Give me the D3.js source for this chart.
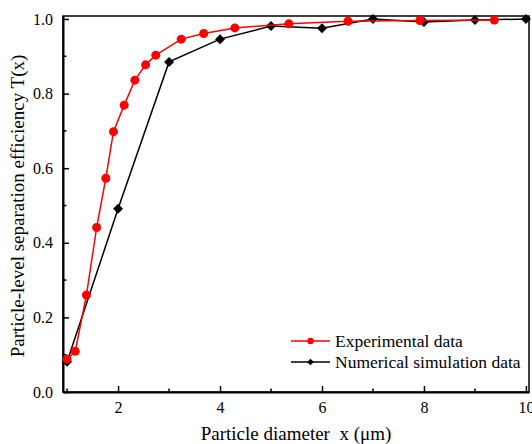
<!DOCTYPE html>
<html>
<head>
<meta charset="utf-8">
<script src="https://cdn.jsdelivr.net/npm/d3@7"></script>
<style>
  html, body { margin: 0; padding: 0; background: #fff; }
  svg { display: block; }
</style>
</head>
<body>
<svg id="chart" width="532" height="444"></svg>
<script>
// Experimental separation efficiency
const expDiameter = [1.0, 1.16, 1.38, 1.58, 1.76, 1.91, 2.12, 2.33, 2.54, 2.74, 3.24, 3.68, 4.29, 5.35, 6.51, 7.92, 9.38];
const expEfficiency = [0.088, 0.109, 0.260, 0.441, 0.573, 0.698, 0.769, 0.836, 0.877, 0.903, 0.946, 0.961, 0.976, 0.987, 0.994, 0.996, 0.997];

// Numerical simulation efficiency
const simDiameter = [1, 2, 3, 4, 5, 6, 7, 8, 9, 10];
const simEfficiency = [0.081, 0.491, 0.885, 0.946, 0.981, 0.975, 1.0, 0.992, 0.997, 1.0];

const xTicks = [2, 4, 6, 8, 10];
const xMinorTicks = [1, 3, 5, 7, 9];
const yTicks = [0.0, 0.2, 0.4, 0.6, 0.8, 1.0];
const yMinorTicks = [0.1, 0.3, 0.5, 0.7, 0.9];

const seriesNames = ["Experimental data", "Numerical simulation data"];
const seriesColors = ["#ff0000", "#000000"];

const FONT = "'Liberation Serif', 'Times New Roman', serif";

const svg = d3.select("#chart");
const plotLeft = 63, plotRight = 529, plotTop = 16, plotBottom = 392;

const x = d3.scaleLinear().domain([0.92, 10.06]).range([plotLeft, plotRight]);
const y = d3.scaleLinear().domain([0, 1.008]).range([plotBottom, plotTop]);

// Plot frame
svg.append("rect")
  .attr("x", plotLeft).attr("y", plotTop)
  .attr("width", plotRight - plotLeft).attr("height", plotBottom - plotTop)
  .attr("fill", "none").attr("stroke", "#000").attr("stroke-width", 1.5);

// Bottom axis: inward ticks
const xAxis = d3.axisBottom(x).tickValues(xTicks).tickSizeInner(-6).tickSizeOuter(0).tickPadding(10).tickFormat(d3.format("d"));
const gx = svg.append("g").attr("transform", `translate(0,${plotBottom})`).call(xAxis);
gx.attr("font-family", FONT).attr("font-size", 16);
gx.select(".domain").attr("stroke-width", 2);
gx.selectAll(".tick line").attr("stroke-width", 1.5);
gx.selectAll(".minor").data(xMinorTicks).enter().append("line")
  .attr("class", "minor")
  .attr("x1", d => x(d)).attr("x2", d => x(d))
  .attr("y1", 0).attr("y2", -3.5)
  .attr("stroke", "#000").attr("stroke-width", 1.5);

// Left axis: inward ticks
const yAxis = d3.axisLeft(y).tickValues(yTicks).tickSizeInner(-6).tickSizeOuter(0).tickPadding(10).tickFormat(d3.format(".1f"));
const gy = svg.append("g").attr("transform", `translate(${plotLeft},0)`).call(yAxis);
gy.attr("font-family", FONT).attr("font-size", 16);
gy.select(".domain").attr("stroke-width", 2);
gy.selectAll(".tick line").attr("stroke-width", 1.5);
gy.selectAll(".minor").data(yMinorTicks).enter().append("line")
  .attr("class", "minor")
  .attr("y1", d => y(d)).attr("y2", d => y(d))
  .attr("x1", 0).attr("x2", 3.5)
  .attr("stroke", "#000").attr("stroke-width", 1.5);

// Axis titles
svg.append("text")
  .attr("x", 296).attr("y", 440)
  .attr("text-anchor", "middle")
  .attr("font-family", FONT).attr("font-size", 19).style("white-space", "pre")
  .text("Particle diameter  x (\u03bcm)");

svg.append("text")
  .attr("transform", "translate(24,206) rotate(-90)")
  .attr("text-anchor", "middle")
  .attr("font-family", FONT).attr("font-size", 19)
  .text("Particle-level separation efficiency T(x)");

const line = d3.line().x(d => x(d[0])).y(d => y(d[1]));
const simData = simDiameter.map((d, i) => [d, simEfficiency[i]]);
const expData = expDiameter.map((d, i) => [d, expEfficiency[i]]);
const diamond = d3.symbol().type(d3.symbolSquare).size(50);

// Simulation series (black diamonds)
svg.append("path").datum(simData)
  .attr("d", line).attr("fill", "none")
  .attr("stroke", seriesColors[1]).attr("stroke-width", 1.5);
svg.selectAll(".sim").data(simData).enter().append("path")
  .attr("class", "sim")
  .attr("transform", d => `translate(${x(d[0])},${y(d[1])}) rotate(45)`)
  .attr("d", diamond).attr("fill", seriesColors[1]);

// Experimental series (red circles)
svg.append("path").datum(expData)
  .attr("d", line).attr("fill", "none")
  .attr("stroke", seriesColors[0]).attr("stroke-width", 1.5);
svg.selectAll(".exp").data(expData).enter().append("circle")
  .attr("class", "exp")
  .attr("cx", d => x(d[0])).attr("cy", d => y(d[1]))
  .attr("r", 4.5).attr("fill", seriesColors[0]);

// Legend
const legend = svg.append("g").attr("transform", "translate(291,341)");
seriesNames.forEach((name, i) => {
  const g = legend.append("g").attr("transform", `translate(0,${i * 21})`);
  g.append("line").attr("x1", 0).attr("x2", 39).attr("y1", 0).attr("y2", 0)
    .attr("stroke", seriesColors[i]).attr("stroke-width", 1.5);
  if (i === 0) {
    g.append("circle").attr("cx", 19.5).attr("cy", 0).attr("r", 3.2).attr("fill", seriesColors[i]);
  } else {
    g.append("path").attr("transform", "translate(19.5,0) rotate(45)")
      .attr("d", d3.symbol().type(d3.symbolSquare).size(22)).attr("fill", seriesColors[i]);
  }
  g.append("text").attr("x", 44).attr("y", 5.5)
    .attr("font-family", FONT).attr("font-size", 17.5).text(name);
});
</script>
</body>
</html>
